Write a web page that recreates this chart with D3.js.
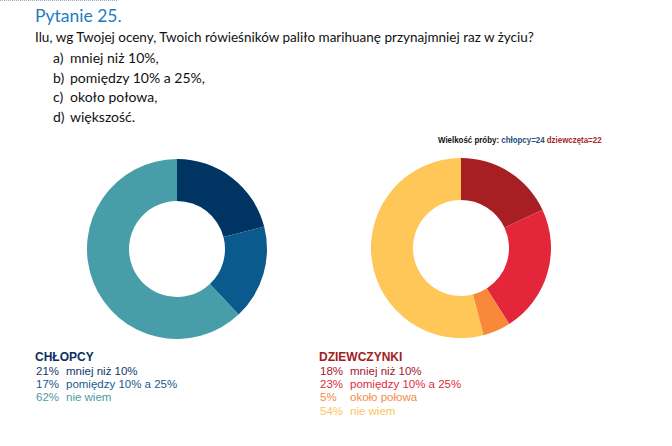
<!DOCTYPE html>
<html><head><meta charset="utf-8">
<script src="https://cdn.jsdelivr.net/npm/d3@7"></script>
<style>body{margin:0;background:#fff}svg{display:block}</style>
</head><body>
<svg id="c" width="672" height="446"></svg>
<script>
const answers = ["a)", "b)", "c)", "d)"];
const answerTexts = ["mniej niż 10%,", "pomiędzy 10% a 25%,", "około połowa,", "większość."];
const boysLabels = ["mniej niż 10%", "pomiędzy 10% a 25%", "nie wiem"];
const boysValues = [21, 17, 62];
const boysColors = ["#003463", "#0a5a8d", "#479ea8"];
const boysText = ["#0d3a6a", "#1a5a8c", "#4c9ba6"];
const girlsLabels = ["mniej niż 10%", "pomiędzy 10% a 25%", "około połowa", "nie wiem"];
const girlsValues = [18, 23, 5, 54];
const girlsColors = ["#a71f23", "#e3263a", "#f8883a", "#fec758"];
const girlsText = ["#a4202c", "#de2a3c", "#f28b4c", "#fbc65e"];

const svg = d3.select("#c");

// dotted line top-left
svg.append("line").attr("x1",0).attr("x2",117).attr("y1",0.5).attr("y2",0.5)
  .attr("stroke","#9ab").attr("stroke-dasharray","1,1");

const head = "Lato, 'Open Sans', sans-serif";
svg.append("text").attr("x",35).attr("y",22).attr("fill","#1b7cc3")
  .attr("font-family",head).attr("font-size",17.5).text("Pytanie 25.");
svg.append("text").attr("x",35).attr("y",42).attr("fill","#111")
  .attr("font-family",head).attr("font-size",14)
  .attr("transform","translate(35,0) scale(0.965,1) translate(-35,0)")
  .text("Ilu, wg Twojej oceny, Twoich rówieśników paliło marihuanę przynajmniej raz w życiu?");
answers.forEach((a,i)=>{
  const y = 63 + i*19.5;
  svg.append("text").attr("x",53).attr("y",y).attr("fill","#111")
    .attr("font-family",head).attr("font-size",14).text(a);
  svg.append("text").attr("x",70).attr("y",y).attr("fill","#111")
    .attr("font-family",head).attr("font-size",14).text(answerTexts[i]);
});

// sample size
const ss = svg.append("text").attr("x",438).attr("y",143)
  .attr("transform","translate(438,0) scale(0.88,1) translate(-438,0)")
  .attr("font-family","'Liberation Sans', Arial, sans-serif").attr("font-size",9).attr("font-weight","bold");
ss.append("tspan").attr("fill","#111").text("Wielkość próby: ");
ss.append("tspan").attr("fill","#1e4f7f").text("chłopcy=24 ");
ss.append("tspan").attr("fill","#a52a2a").text("dziewczęta=22");

function donut(cx, cy, values, colors){
  const pie = d3.pie().sort(null).value(d=>d);
  const arc = d3.arc().innerRadius(48).outerRadius(90);
  svg.append("g").attr("transform",`translate(${cx},${cy})`)
    .selectAll("path").data(pie(values)).join("path")
    .attr("d",arc).attr("fill",(d,i)=>colors[i]);
}
donut(177, 249, boysValues, boysColors);
donut(461, 248, girlsValues, girlsColors);

function legend(x, title, titleColor, values, labels, colors){
  const f = "'Liberation Sans', Arial, sans-serif";
  svg.append("text").attr("x",x).attr("y",361).attr("fill",titleColor)
    .attr("font-family",f).attr("font-weight","900").attr("font-size",12).text(title);
  values.forEach((v,i)=>{
    const y = 375 + i*13.2;
    svg.append("text").attr("x",x+1).attr("y",y).attr("fill",colors[i])
      .attr("font-family",f).attr("font-size",11.5).text(v+"%");
    svg.append("text").attr("x",x+31).attr("y",y).attr("fill",colors[i])
      .attr("font-family",f).attr("font-size",11.5).text(labels[i]);
  });
}
legend(35, "CHŁOPCY", "#0d2f5e", boysValues, boysLabels, boysText);
legend(319, "DZIEWCZYNKI", "#a11d22", girlsValues, girlsLabels, girlsText);
</script>
</body></html>
